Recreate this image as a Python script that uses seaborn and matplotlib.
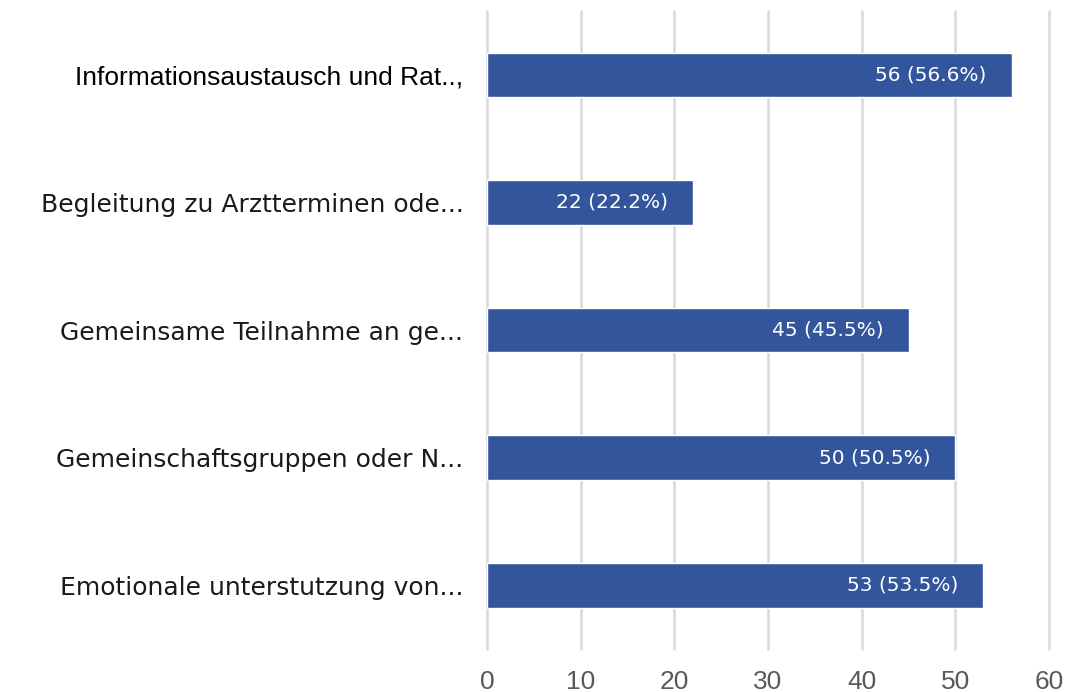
import matplotlib.pyplot as plt
import seaborn as sns
import pandas as pd

# chart data
categories = [
    'Informationsaustausch und Rat..,',
    'Begleitung zu Arztterminen ode...',
    'Gemeinsame Teilnahme an ge...',
    'Gemeinschaftsgruppen oder N...',
    'Emotionale unterstutzung von...',
]
counts = [56, 22, 45, 50, 53]
percents = [56.6, 22.2, 45.5, 50.5, 53.5]
x_ticks = [0, 10, 20, 30, 40, 50, 60]

df = pd.DataFrame({'Antwort': categories, 'Anzahl': counts})

sns.set_style('white')
plt.rcParams['font.family'] = ['DejaVu Sans']

fig = plt.figure(figsize=(10.69, 6.92), dpi=100)
ax = fig.add_axes([0.4556, 0.0621, 0.5257, 0.9219])

sns.barplot(data=df, x='Anzahl', y='Antwort', orient='h', color='#33559B',
            saturation=1, width=0.35, ax=ax, zorder=3)

# value labels inside the bar ends
for i, (c, p) in enumerate(zip(counts, percents)):
    ax.annotate(f'{c} ({p}%)', xy=(c, i), xytext=(-18, 0), textcoords='offset points',
                ha='right', va='center', color='white', fontsize=14.5,
                fontfamily='DejaVu Sans', zorder=4)

ax.set_xlim(0, 60)
ax.set_ylim(4.5, -0.5)
ax.set_xticks(x_ticks)
ax.set_xticklabels([str(t) for t in x_ticks], fontsize=19, color='#595959',
                   fontfamily='Liberation Sans')
ax.xaxis.grid(True, color='#d9d9d9', linewidth=1.8, zorder=0)
for gl in ax.get_xgridlines():
    gl.set_clip_on(False)
ax.yaxis.grid(False)
ax.set_xlabel('')
ax.set_ylabel('')
for s in ax.spines.values():
    s.set_visible(False)
ax.tick_params(axis='both', length=0)
ax.tick_params(axis='x', pad=15)
ax.tick_params(axis='y', pad=17)

ylabels = ax.get_yticklabels()
for k, t in enumerate(ylabels):
    t.set_color('#1a1a1a')
    t.set_fontsize(18)
    if k == 0:
        t.set_fontfamily('Liberation Sans')
        t.set_fontsize(19)
        t.set_color('black')

fig.savefig('out.png', dpi=100)
